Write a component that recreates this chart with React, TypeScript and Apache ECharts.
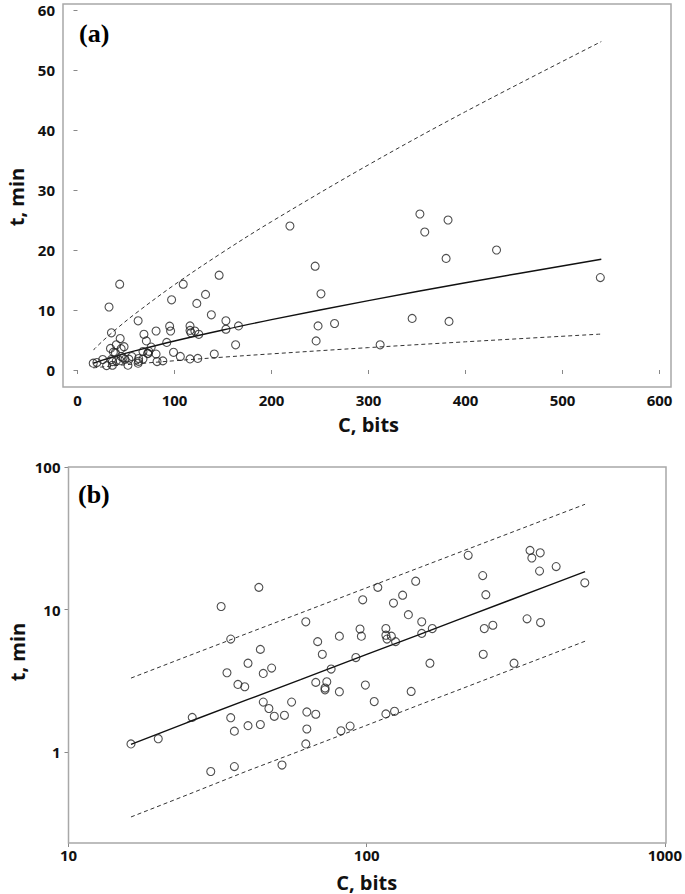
import React, { useEffect, useRef } from "react";
import * as echarts from "echarts";

// Observed data: C (bits) and t (min)
const C_BITS = [
  539, 432, 353, 382, 358, 380, 345, 383, 312, 219, 245, 251, 248, 265, 246,
  146, 109, 132, 123, 97, 138, 153, 95, 96, 116, 116, 121, 117, 125, 153, 166,
  81, 92, 163, 81, 99, 106, 141, 116, 124, 88, 82, 32.5, 62.5, 35, 68.5, 71,
  44, 40, 34, 45, 48, 37, 39, 76, 67.5, 73.5, 72.5, 72.5, 45, 47, 56, 49, 53,
  63, 67.5, 26, 35, 36, 40, 44, 63, 62.5, 20, 16.2, 30, 36, 52, 43.5,
];
const T_MIN = [
  15.4, 20.0, 26.0, 25.0, 23.0, 18.6, 8.6, 8.1, 4.2, 24.0, 17.3, 12.7, 7.35,
  7.75, 4.85, 15.8, 14.3, 12.6, 11.1, 11.7, 9.2, 8.2, 7.3, 6.5, 7.35, 6.6, 6.5,
  6.2, 5.95, 6.8, 7.35, 6.5, 4.6, 4.2, 2.65, 2.95, 2.26, 2.66, 1.85, 1.93, 1.52,
  1.41, 10.5, 8.2, 6.2, 5.95, 4.85, 5.25, 4.2, 3.6, 3.56, 3.88, 2.98, 2.87,
  3.82, 3.08, 3.11, 2.81, 2.73, 2.24, 2.02, 2.24, 1.78, 1.81, 1.91, 1.84, 1.75,
  1.74, 1.4, 1.53, 1.56, 1.45, 1.14, 1.24, 1.14, 0.73, 0.79, 0.81, 14.3,
];

// Fitted line and prediction band
const FIT_C = [16.2, 25, 40, 60, 100, 150, 200, 300, 400, 540];
const FIT_MID = [1.13, 1.61, 2.34, 3.22, 4.84, 6.67, 8.39, 11.57, 14.54, 18.46];
const FIT_UPPER = [3.3, 4.69, 6.83, 9.44, 14.21, 19.65, 24.73, 34.2, 43.06, 54.74];
const FIT_LOWER = [0.35, 0.5, 0.74, 1.02, 1.54, 2.14, 2.69, 3.73, 4.7, 5.99];

const LIN_X_TICKS = [0, 600, 100];
const LIN_Y_TICKS = [0, 60, 10];
const LOG_X_RANGE = [10, 1000];
const LOG_Y_RANGE = [1, 100];

const FONT = "'Open Sans', 'DejaVu Sans', sans-serif";
const FRAME = "#a8a8a8";

export default function App() {
  const ref = useRef<HTMLDivElement>(null);

  useEffect(() => {
    if (!ref.current) return;
    const chart = echarts.init(ref.current, null, { renderer: "svg" });

    const pts = C_BITS.map((c, i) => [c, T_MIN[i]]);
    const mid = FIT_C.map((c, i) => [c, FIT_MID[i]]);
    const up = FIT_C.map((c, i) => [c, FIT_UPPER[i]]);
    const lo = FIT_C.map((c, i) => [c, FIT_LOWER[i]]);

    const label = {
      fontFamily: FONT,
      fontSize: 15,
      fontWeight: "bold" as const,
      color: "#111",
      formatter: (v: number) => String(Math.round(v * 1000) / 1000),
    };
    const tick = { show: true, length: 4, lineStyle: { color: "#888", width: 1 } };
    const nameStyle = {
      fontFamily: FONT,
      fontSize: 20,
      fontWeight: "bold" as const,
      color: "#111",
    };

    const scatter = (idx: number) => ({
      type: "scatter",
      xAxisIndex: idx,
      yAxisIndex: idx,
      data: pts,
      symbol: "circle",
      symbolSize: 8,
      clip: false,
      itemStyle: { color: "rgba(0,0,0,0)", borderColor: "#222", borderWidth: 1.1 },
      z: 5,
    });
    const line = (idx: number, data: number[][], dashed: boolean, smooth: boolean) => ({
      type: "line",
      xAxisIndex: idx,
      yAxisIndex: idx,
      data,
      showSymbol: false,
      smooth: smooth ? 0.35 : false,
      clip: false,
      lineStyle: dashed
        ? { color: "#333", width: 1, type: [4, 3] }
        : { color: "#111", width: 1.4 },
      z: 3,
    });

    chart.setOption({
      animation: false,
      backgroundColor: "#fff",
      grid: [
        { left: 77.5, top: 10, width: 582, height: 360 },
        { left: 68.5, top: 467, width: 597.5, height: 285 },
      ],
      xAxis: [
        {
          gridIndex: 0,
          type: "value",
          min: LIN_X_TICKS[0],
          max: LIN_X_TICKS[1],
          interval: LIN_X_TICKS[2],
          offset: 17,
          axisLine: { show: false },
          axisTick: tick,
          splitLine: { show: false },
          axisLabel: { ...label, margin: 5 },
          name: "C, bits",
          nameLocation: "middle",
          nameGap: 27,
          nameTextStyle: nameStyle,
        },
        {
          gridIndex: 1,
          type: "log",
          logBase: 10,
          min: LOG_X_RANGE[0],
          max: LOG_X_RANGE[1],
          offset: 91,
          axisLine: { show: false },
          axisTick: tick,
          splitLine: { show: false },
          minorTick: { show: false },
          axisLabel: { ...label, margin: 4 },
          name: "C, bits",
          nameLocation: "middle",
          nameGap: 29,
          nameTextStyle: nameStyle,
        },
      ],
      yAxis: [
        {
          gridIndex: 0,
          type: "value",
          min: LIN_Y_TICKS[0],
          max: LIN_Y_TICKS[1],
          interval: LIN_Y_TICKS[2],
          offset: 14.5,
          axisLine: { show: false },
          axisTick: tick,
          splitLine: { show: false },
          axisLabel: { ...label, margin: 8 },
        },
        {
          gridIndex: 1,
          type: "log",
          logBase: 10,
          min: LOG_Y_RANGE[0],
          max: LOG_Y_RANGE[1],
          axisLine: { show: false },
          axisTick: tick,
          splitLine: { show: false },
          minorTick: { show: false },
          axisLabel: { ...label, margin: 8 },
        },
      ],
      graphic: [
        {
          type: "rect",
          shape: { x: 63, y: 4, width: 608, height: 383 },
          style: { fill: "none", stroke: FRAME, lineWidth: 1.5 },
          z: 1,
        },
        {
          type: "rect",
          shape: { x: 68.5, y: 467, width: 597.5, height: 376 },
          style: { fill: "none", stroke: FRAME, lineWidth: 1.5 },
          z: 1,
        },
        {
          type: "text",
          x: 79,
          y: 33,
          style: {
            text: "(a)",
            font: "bold 26px 'Liberation Serif', 'Times New Roman', serif",
            fill: "#000",
            verticalAlign: "middle",
            align: "left",
          },
        },
        {
          type: "text",
          x: 78,
          y: 494,
          style: {
            text: "(b)",
            font: "bold 26px 'Liberation Serif', 'Times New Roman', serif",
            fill: "#000",
            verticalAlign: "middle",
            align: "left",
          },
        },
        {
          type: "text",
          x: 16,
          y: 197,
          rotation: Math.PI / 2,
          style: {
            text: "t, min",
            font: "bold 20px 'Open Sans', sans-serif",
            fill: "#111",
            align: "center",
            verticalAlign: "middle",
          },
        },
        {
          type: "text",
          x: 17,
          y: 652,
          rotation: Math.PI / 2,
          style: {
            text: "t, min",
            font: "bold 20px 'Open Sans', sans-serif",
            fill: "#111",
            align: "center",
            verticalAlign: "middle",
          },
        },
      ],
      series: [
        line(0, up, true, true),
        line(0, lo, true, true),
        line(0, mid, false, true),
        scatter(0),
        line(1, up, true, false),
        line(1, lo, true, false),
        line(1, mid, false, false),
        scatter(1),
      ],
    });

    return () => chart.dispose();
  }, []);

  return (
    <div
      ref={ref}
      style={{ position: "absolute", left: 0, top: 0, width: 685, height: 894, background: "#fff" }}
    />
  );
}
